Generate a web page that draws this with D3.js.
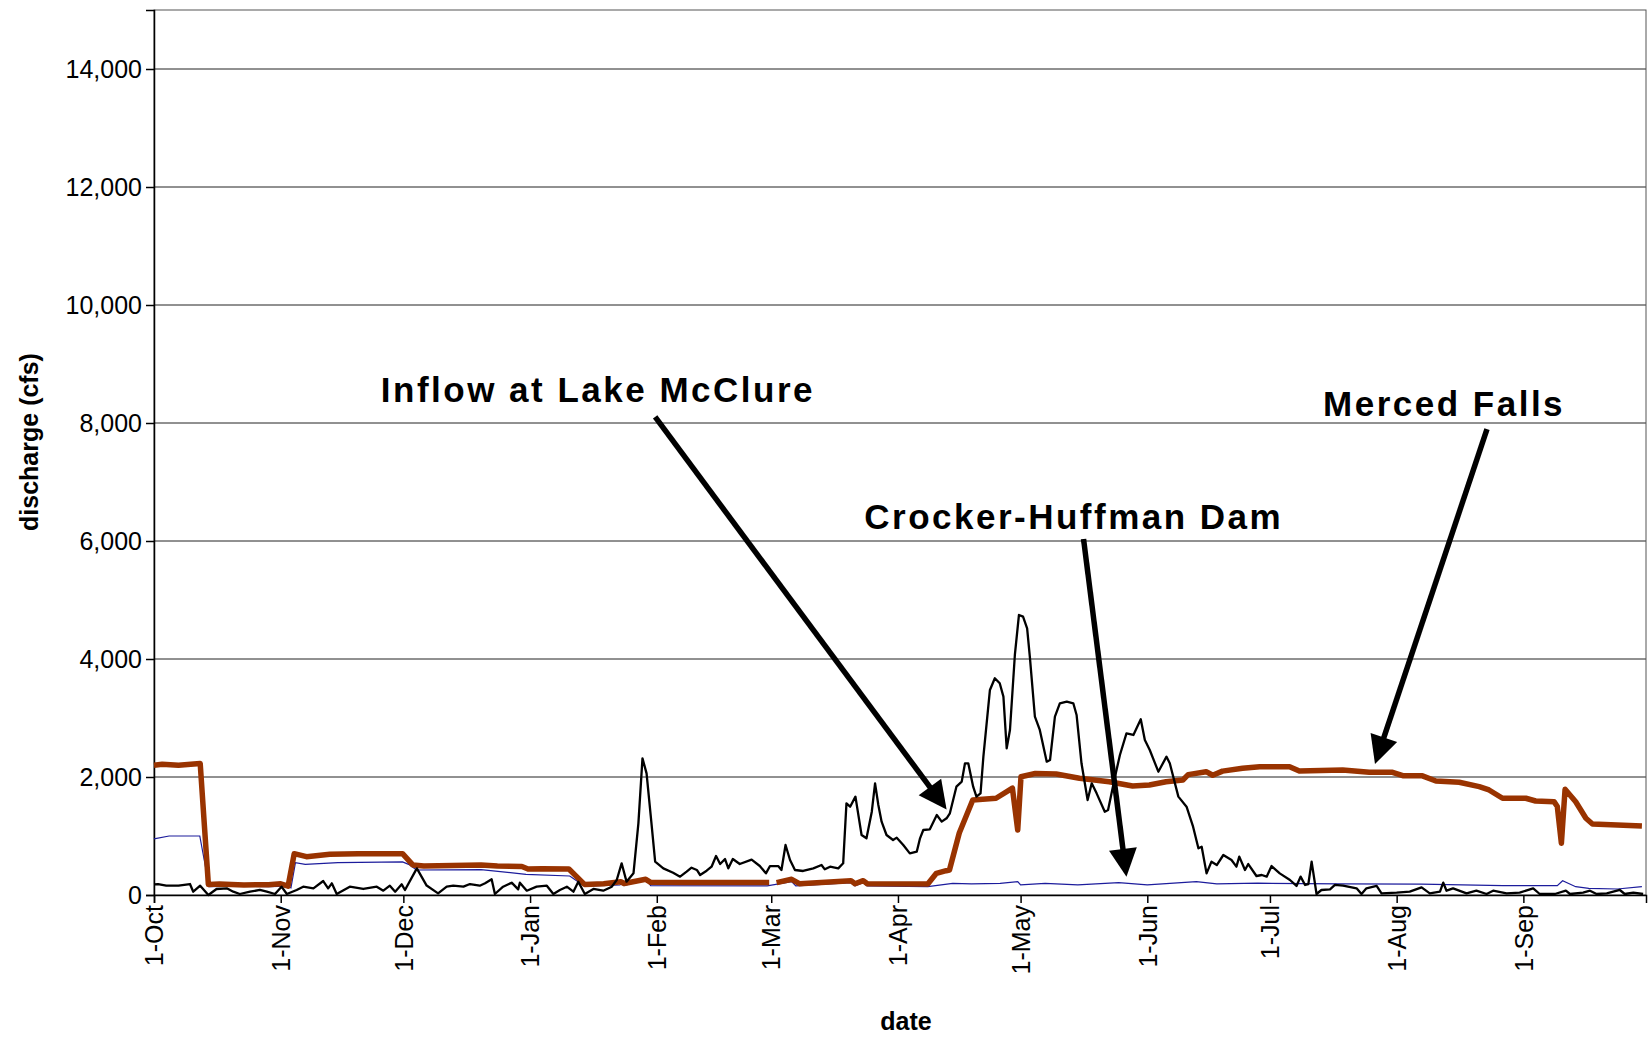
<!DOCTYPE html>
<html>
<head>
<meta charset="utf-8">
<script src="https://cdn.jsdelivr.net/npm/d3@7"></script>
<style>
  body { margin: 0; background: #fff; }
  text { font-family: "Liberation Sans", Arial, sans-serif; }
</style>
</head>
<body>
<script>
// discharge series, [days after 1-Oct, cfs]
var inflow = [[0,180],[1,186],[3,158],[6,158],[8.8,186],[9.6,56],[11.3,158],[13.3,0],[15.3,102],[17.8,113],[19.4,56],[21,17],[23.5,56],[25.9,85],[27.6,56],[29.6,17],[31.2,141],[32.5,17],[34.9,85],[36.5,141],[39,113],[41.4,237],[42.6,113],[43.5,198],[44.7,17],[47.9,141],[51.2,102],[54.5,141],[56.1,73],[57.7,158],[59,56],[60.6,181],[61.4,85],[64.3,452],[66.7,160],[69.5,28],[71.6,141],[73.2,158],[75.7,141],[77.3,186],[79.7,158],[81,198],[82.6,266],[83.4,17],[85.4,141],[87.5,209],[89.1,96],[89.5,209],[91.2,73],[93.6,141],[96.1,158],[97.7,17],[99.3,85],[101,141],[102.6,56],[103.8,226],[105.4,17],[107.5,102],[109.9,73],[112,141],[113.2,254],[114.4,537],[115.6,226],[117.3,367],[118.5,1215],[119.5,2317],[120.5,2062],[121.7,1215],[122.6,565],[124.6,452],[127,378],[128.7,311],[130.3,395],[131.5,463],[132.8,424],[133.6,339],[135.2,412],[136.4,480],[137.5,661],[138.5,525],[139.7,610],[140.5,452],[141.6,610],[143.3,525],[146.2,599],[148.2,491],[149.7,367],[150.7,491],[152.7,491],[153.5,424],[154.5,848],[155.6,593],[156.8,424],[158.8,407],[161.3,452],[163.3,508],[164.1,435],[165.4,480],[167.4,452],[168.6,537],[169.4,1554],[170.3,1497],[171.6,1667],[173.1,1017],[174.3,961],[175.6,1412],[176.4,1893],[177.2,1525],[178,1243],[179.2,1017],[180.8,932],[181.7,972],[183.3,848],[184.9,706],[186.6,734],[187.4,961],[188.2,1102],[189.8,1113],[191.5,1356],[192.7,1243],[193.9,1300],[194.7,1384],[196.3,1836],[197.6,1921],[198.4,2232],[199.2,2232],[200.4,1836],[201.2,1667],[202.2,1723],[202.9,2345],[204.5,3475],[205.7,3673],[206.9,3588],[207.8,3362],[208.6,2486],[209.4,2797],[210.6,4068],[211.6,4746],[212.6,4718],[213.6,4520],[214.3,4012],[215.5,3023],[216.7,2797],[218.4,2260],[219.2,2288],[220.4,3023],[221.6,3249],[223.3,3277],[224.9,3249],[225.7,3051],[226.9,2232],[228.4,1610],[229.4,1893],[230.6,1723],[232.6,1412],[233.4,1441],[235.1,2006],[236.3,2373],[237.9,2740],[239.6,2712],[241.4,2978],[242.4,2627],[243.6,2458],[245.7,2090],[247.7,2345],[248.5,2232],[250.6,1667],[252.6,1497],[254.2,1158],[255.5,791],[256.3,819],[257.5,367],[258.7,565],[260,508],[261.6,678],[263.6,593],[264.8,480],[265.5,650],[266.9,424],[267.7,525],[269.7,322],[271,339],[272.2,311],[273.4,491],[275.4,367],[277.9,254],[279.5,153],[280.5,311],[281.6,170],[282.4,186],[283.2,565],[284.4,17],[285.6,85],[287.7,96],[288.9,170],[290.9,158],[294.2,113],[295.4,17],[296.6,113],[299.1,153],[300.3,28],[304,40],[307.2,56],[310.1,130],[312.1,28],[314.6,56],[315.4,209],[316.2,73],[317.8,113],[321.1,28],[323.5,73],[326,17],[327.6,73],[330.9,28],[334.1,40],[337.4,113],[339,17],[342.7,17],[345.4,73],[346.4,17],[349.6,40],[351.3,73],[352.9,17],[355.4,28],[358.6,85],[359.8,17],[361.9,40],[364.3,17]];

var mercedFalls = [[0,2200],[2,2215],[6,2200],[9,2215],[11.3,2230],[13.3,180],[16,185],[22,170],[28,175],[31,190],[32.8,150],[34.3,700],[37.3,650],[43,690],[50,700],[55,700],[60.8,700],[63.3,510],[66,490],[80,510],[84,490],[90,483],[91.5,440],[95,445],[101.5,440],[105.3,180],[110,190],[114.2,225],[115,195],[120.3,266],[121.5,215],[130,210],[140,210],[150.5,210],[151.4,null],[152.3,210],[156,266],[158,190],[170.5,243],[171.5,190],[173.5,243],[174.5,190],[189.3,186],[191.4,367],[193.8,412],[194.6,424],[197,1050],[200.3,1610],[206,1640],[210,1810],[211.3,1100],[212.1,2005],[215.6,2060],[220.7,2050],[226.4,1978],[233.7,1920],[239.4,1848],[243.5,1865],[247.6,1920],[251.7,1950],[253,2040],[257.4,2090],[259,2030],[261.4,2100],[266.3,2147],[270.5,2175],[277.8,2175],[280.2,2100],[290.8,2120],[297.3,2080],[303,2080],[305.5,2022],[310.3,2020],[313.6,1932],[319.3,1910],[324.2,1836],[326.6,1780],[329.9,1640],[335.6,1640],[338,1593],[342.5,1582],[343.3,1500],[344.3,876],[345.2,1791],[347.8,1580],[350.3,1300],[351.9,1203],[364,1170]];

var crockerHuffman = [[0,950],[3.7,1000],[11.2,1000],[13.5,141],[20,150],[28,140],[32.6,150],[33.5,120],[34.6,548],[37,520],[45,550],[60.8,560],[62.3,520],[64.2,424],[80,430],[91,350],[101.7,322],[105.3,152],[114,169],[114.4,200],[115,160],[120.4,266],[121.5,160],[150,155],[156,226],[157,155],[170.5,209],[171.5,155],[173.5,209],[174.5,155],[189.3,141],[195.4,198],[200,190],[207,198],[211.3,226],[212,170],[218,198],[226,170],[236,209],[243,170],[255,226],[260,190],[270,200],[290,187],[310,186],[330,160],[343.3,158],[344.6,242],[347.8,141],[351,113],[358,102],[364,141]];

var yTicks = [0, 2000, 4000, 6000, 8000, 10000, 12000, 14000];

// annotations: label, text position, arrow start, arrow tip  [day, cfs]
var noteLabels = ["Inflow at Lake McClure", "Crocker-Huffman Dam", "Merced Falls"];
var noteText = [[108.6, 8356], [225, 6204], [315.6, 8119]];
var arrowFrom = [[122.6, 8102], [227.4, 6034], [326.1, 7896]];
var arrowTo = [[193.9, 1449], [237.9, 310], [298.7, 2220]];

function main() {
    var width = 1648, height = 1040;
    var plotLeft = 154, plotRight = 1646, plotTop = 10, plotBottom = 895;

    var start = Date.UTC(2004, 9, 1), end = Date.UTC(2005, 9, 1);
    function toDate(day) { return new Date(start + day * 864e5); }

    var svg = d3.select("body").append("svg")
        .attr("width", width)
        .attr("height", height);

    svg.append("rect").attr("width", width).attr("height", height).attr("fill", "#fff");

    var x = d3.scaleUtc().domain([new Date(start), new Date(end)]).range([plotLeft, plotRight]);
    var y = d3.scaleLinear().domain([0, 15000]).range([plotBottom, plotTop]);

    // grid
    svg.append("g")
       .selectAll("line")
       .data(yTicks.slice(1))
       .enter().append("line")
       .attr("x1", plotLeft).attr("x2", plotRight)
       .attr("y1", function(d) { return y(d); })
       .attr("y2", function(d) { return y(d); })
       .attr("stroke", "#222")
       .attr("stroke-width", 1);

    svg.append("rect")
       .attr("x", plotLeft).attr("y", plotTop)
       .attr("width", plotRight - plotLeft).attr("height", plotBottom - plotTop)
       .attr("fill", "none")
       .attr("stroke", "#555")
       .attr("stroke-width", 1);

    // axes
    var yAxis = svg.append("g")
        .attr("transform", "translate(" + plotLeft + ",0)")
        .call(d3.axisLeft(y).tickValues(yTicks).tickFormat(d3.format(",")).tickSize(8).tickPadding(4));
    yAxis.selectAll("text").style("font-size", "25px").attr("fill", "#000");

    var months = d3.utcMonth.range(new Date(start), new Date(end));
    var xAxis = svg.append("g")
        .attr("transform", "translate(0," + plotBottom + ")")
        .call(d3.axisBottom(x).tickValues(months).tickFormat(function(d) { return "1-" + d3.utcFormat("%b")(d); }).tickSize(8));
    xAxis.selectAll("text")
        .style("font-size", "25px")
        .attr("fill", "#000")
        .attr("text-anchor", "end")
        .attr("transform", "rotate(-90)")
        .attr("x", -10)
        .attr("y", 0)
        .attr("dy", "0.35em");

    svg.selectAll(".domain, .tick line").attr("stroke", "#000").attr("stroke-width", 1.5);

    // series
    function seriesLine() {
        return d3.line()
            .defined(function(d) { return d[1] !== null; })
            .x(function(d) { return x(toDate(d[0])); })
            .y(function(d) { return y(d[1]); });
    }

    svg.append("path").datum(crockerHuffman)
       .attr("d", seriesLine())
       .attr("fill", "none").attr("stroke", "#1c1c9c").attr("stroke-width", 1.2);

    svg.append("path").datum(mercedFalls)
       .attr("d", seriesLine())
       .attr("fill", "none").attr("stroke", "#993300").attr("stroke-width", 5.5)
       .attr("stroke-linejoin", "round");

    svg.append("path").datum(inflow)
       .attr("d", seriesLine())
       .attr("fill", "none").attr("stroke", "#000").attr("stroke-width", 2.3)
       .attr("stroke-linejoin", "round");

    // annotations
    var notes = svg.append("g");
    noteLabels.forEach(function(label, i) {
        var x0 = x(toDate(arrowFrom[i][0])), y0 = y(arrowFrom[i][1]);
        var x1 = x(toDate(arrowTo[i][0])), y1 = y(arrowTo[i][1]);
        var len = Math.hypot(x1 - x0, y1 - y0);
        var ux = (x1 - x0) / len, uy = (y1 - y0) / len;
        var head = 28, half = 14;
        var bx = x1 - ux * head, by = y1 - uy * head;
        notes.append("line")
            .attr("x1", x0).attr("y1", y0)
            .attr("x2", bx + ux * 2).attr("y2", by + uy * 2)
            .attr("stroke", "#000").attr("stroke-width", 5.5);
        notes.append("polygon")
            .attr("points", [[x1, y1], [bx - uy * half, by + ux * half], [bx + uy * half, by - ux * half]].join(" "))
            .attr("fill", "#000");
        notes.append("text")
            .attr("x", x(toDate(noteText[i][0])))
            .attr("y", y(noteText[i][1]))
            .attr("text-anchor", "middle")
            .style("font-size", "35px")
            .style("font-weight", "bold")
            .style("letter-spacing", "2.5px")
            .text(label);
    });

    // axis titles
    svg.append("text")
       .attr("transform", "translate(38,442) rotate(-90)")
       .attr("text-anchor", "middle")
       .style("font-size", "25px")
       .style("font-weight", "bold")
       .text("discharge (cfs)");

    svg.append("text")
       .attr("x", 906).attr("y", 1030)
       .attr("text-anchor", "middle")
       .style("font-size", "25px")
       .style("font-weight", "bold")
       .text("date");
}

main();
</script>
</body>
</html>
